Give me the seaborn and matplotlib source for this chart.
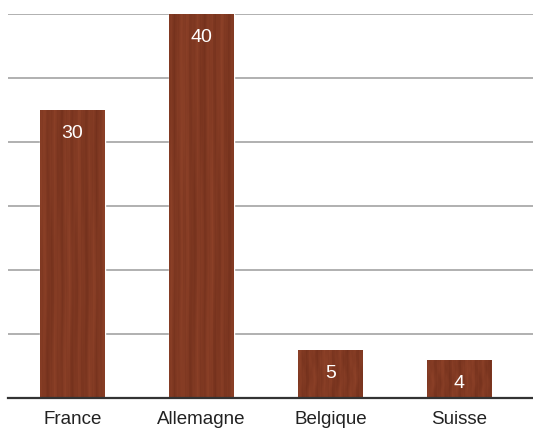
import numpy as np
import pandas as pd
import matplotlib
matplotlib.use("Agg")
import matplotlib.pyplot as plt
import seaborn as sns

categories = ["France", "Allemagne", "Belgique", "Suisse"]
values = [30, 40, 5, 4]

sns.set_style("white")
plt.rcParams["font.family"] = ["Liberation Sans", "DejaVu Sans"]

df = pd.DataFrame({"pays": categories, "valeur": values})

fig = plt.figure(figsize=(5.33, 4.32), dpi=100)
ax = fig.add_axes([8 / 533, 1 - 398 / 432, (533 - 8) / 533, 384 / 432])

sns.barplot(data=df, x="pays", y="valeur", color="#7f3a22", width=0.5,
            saturation=1, ax=ax, zorder=3)

ax.set_ylim(0, 40)
ax.set_xlim(-0.5, 3.57)
ax.set_yticks(np.linspace(0, 40, 7))
ax.yaxis.grid(True, color="#b0b0b0", linewidth=1.4, zorder=0)
ax.set_axisbelow(True)
ax.tick_params(axis="y", left=False, labelleft=False)
ax.tick_params(axis="x", bottom=False, labelsize=13.5, colors="#222222", pad=6)
ax.set_xlabel("")
ax.set_ylabel("")
for s in ["top", "right", "left"]:
    ax.spines[s].set_visible(False)
ax.spines["bottom"].set_color("#333333")
ax.spines["bottom"].set_linewidth(1.6)
ax.spines["bottom"].set_zorder(5)

# Wood grain texture (decorative, deterministic)
H, W = 400, 80
xx = np.linspace(0, 1, W)[None, :]
yy = np.linspace(0, 1, H)[:, None]
grain = (0.40 * np.sin(2 * np.pi * (xx * 5.3 + 0.12 * np.sin(2 * np.pi * yy * 1.3)))
         + 0.25 * np.sin(2 * np.pi * (xx * 13.1 + 0.07 * np.sin(2 * np.pi * yy * 2.7) + 0.3))
         + 0.20 * np.sin(2 * np.pi * (xx * 29.7 + 0.05 * np.sin(2 * np.pi * yy * 4.1) + 0.7))
         + 0.15 * np.sin(2 * np.pi * (xx * 2.1 + yy * 0.6)))
grain = (grain - grain.min()) / (grain.max() - grain.min())
dark = np.array([0.45, 0.19, 0.11])
light = np.array([0.56, 0.26, 0.16])
tex = dark[None, None, :] + (light - dark)[None, None, :] * grain[..., None]

for i, p in enumerate(ax.patches):
    x0, y0 = p.get_x(), p.get_y()
    w, h = p.get_width(), p.get_height()
    im = ax.imshow(np.roll(tex, i * 17, axis=1), extent=[x0, x0 + w, y0, y0 + h],
                   aspect="auto", zorder=4, interpolation="bilinear")
    im.set_clip_path(p)
    ax.annotate(f"{values[i]}", xy=(x0 + w / 2, y0 + h), xytext=(0, -17),
                textcoords="offset points", ha="center", va="center",
                color="white", fontsize=14, zorder=6)

ax.set_xlim(-0.5, 3.57)
ax.set_ylim(0, 40)

fig.savefig("out.png", dpi=100)
